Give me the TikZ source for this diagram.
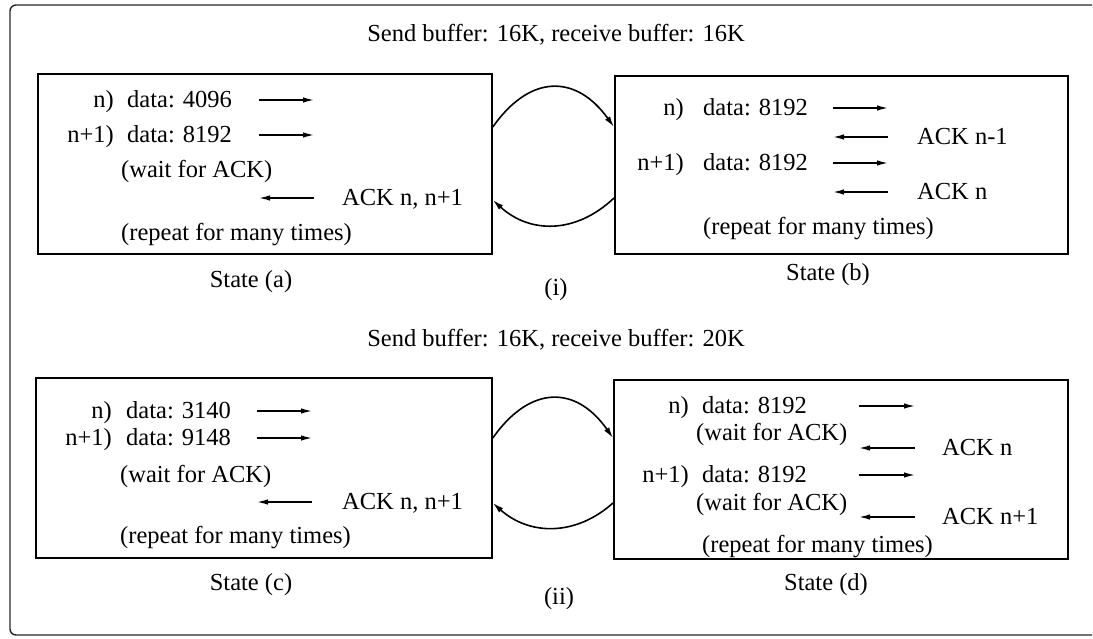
\documentclass[tikz,border=0pt]{standalone}
\usepackage{fontspec}
\setmainfont{Liberation Serif}
\usetikzlibrary{arrows.meta}
\begin{document}
\begin{tikzpicture}[x=1pt,y=-1pt,
  txt/.style={font=\fontsize{24.5}{29}\selectfont, inner sep=0pt, text height=17pt, text depth=6pt},
  lt/.style={txt, anchor=base west},
  rt/.style={txt, anchor=base east},
  ct/.style={txt, anchor=center},
  box/.style={draw, line width=1.8pt, rectangle, anchor=north west, inner sep=0pt},
  msg/.style={line width=1.4pt, -{Latex[length=11pt,width=5.5pt]}},
  loopline/.style={line width=1.6pt, -{Latex[length=11pt,width=6pt]}}
]
\useasboundingbox (0,0) rectangle (1093,638);
% outer frame
\draw[line width=1.4pt, rounded corners=6pt, black!85] (1092,5) -- (10,5) -- (10,635) -- (1092,635);

% ---------- part (i) ----------
\node[ct] (t1) at (556,36) {Send buffer: 16K, receive buffer: 16K};
\node[box, minimum width=454pt, minimum height=180pt] (A) at (37,73) {};
\node[box, minimum width=453pt, minimum height=178pt] (B) at (614,75) {};

% box (a)
\node[rt] (a1n) at (114,107) {n)};
\node[lt] (a1d) at (127,107) {data: 4096};
\node[rt] (a2n) at (114,142) {n+1)};
\node[lt] (a2d) at (127,142) {data: 8192};
\node[lt] (a3) at (121,177) {(wait for ACK)};
\node[lt] (a4) at (342,205) {ACK n, n+1};
\node[lt] (a5) at (121,240) {(repeat for many times)};
\path (259,100) coordinate (a1s) (314,100) coordinate (a1e)
      (259,135) coordinate (a2s) (314,135) coordinate (a2e)
      (314,198) coordinate (a3s) (259,198) coordinate (a3e);
\draw[msg] (a1s) -- (a1e);
\draw[msg] (a2s) -- (a2e);
\draw[msg] (a3s) -- (a3e);

% box (b)
\node[rt] (b1n) at (684,115) {n)};
\node[lt] (b1d) at (703,115) {data: 8192};
\node[lt] (b2) at (917,144) {ACK n-1};
\node[rt] (b3n) at (684,170) {n+1)};
\node[lt] (b3d) at (703,170) {data: 8192};
\node[lt] (b4) at (917,199) {ACK n};
\node[lt] (b5) at (703,234) {(repeat for many times)};
\path (833,108) coordinate (b1s) (888,108) coordinate (b1e)
      (888,137) coordinate (b2s) (833,137) coordinate (b2e)
      (833,163) coordinate (b3s) (888,163) coordinate (b3e)
      (888,192) coordinate (b4s) (833,192) coordinate (b4e);
\draw[msg] (b1s) -- (b1e);
\draw[msg] (b2s) -- (b2e);
\draw[msg] (b3s) -- (b3e);
\draw[msg] (b4s) -- (b4e);

\node[ct] (sa) at (251,282) {State (a)};
\node[ct] (sb) at (828,275) {State (b)};
\node[ct] (pi) at (556,290) {(i)};

\draw[loopline] ([yshift=-54pt]A.north east) .. controls (530,74) and (576,74) .. ([yshift=-52pt]B.north west);
\draw[loopline] ([yshift=-123pt]B.north west) .. controls (576,234) and (530,234) .. ([yshift=-127pt]A.north east);

% ---------- part (ii) ----------
\node[ct] (t2) at (556,341) {Send buffer: 16K, receive buffer: 20K};
\node[box, minimum width=456pt, minimum height=180pt] (C) at (35,377) {};
\node[box, minimum width=454pt, minimum height=179pt] (D) at (613,379) {};

% box (c)
\node[rt] (c1n) at (112,418) {n)};
\node[lt] (c1d) at (126,418) {data: 3140};
\node[rt] (c2n) at (112,445) {n+1)};
\node[lt] (c2d) at (126,445) {data: 9148};
\node[lt] (c3) at (120,482) {(wait for ACK)};
\node[lt] (c4) at (342,509) {ACK n, n+1};
\node[lt] (c5) at (120,543) {(repeat for many times)};
\path (257,411) coordinate (c1s) (312,411) coordinate (c1e)
      (257,438) coordinate (c2s) (312,438) coordinate (c2e)
      (312,502) coordinate (c3s) (257,502) coordinate (c3e);
\draw[msg] (c1s) -- (c1e);
\draw[msg] (c2s) -- (c2e);
\draw[msg] (c3s) -- (c3e);

% box (d)
\node[rt] (d1n) at (689,413) {n)};
\node[lt] (d1d) at (702,413) {data: 8192};
\node[lt] (d2) at (696,440) {(wait for ACK)};
\node[lt] (d3) at (942,455) {ACK n};
\node[rt] (d4n) at (689,482) {n+1)};
\node[lt] (d4d) at (702,482) {data: 8192};
\node[lt] (d5) at (696,510) {(wait for ACK)};
\node[lt] (d6) at (942,524) {ACK n+1};
\node[lt] (d7) at (702,552) {(repeat for many times)};
\path (859,406) coordinate (d1s) (915,406) coordinate (d1e)
      (915,448) coordinate (d2s) (859,448) coordinate (d2e)
      (859,475) coordinate (d3s) (915,475) coordinate (d3e)
      (915,517) coordinate (d4s) (859,517) coordinate (d4e);
\draw[msg] (d1s) -- (d1e);
\draw[msg] (d2s) -- (d2e);
\draw[msg] (d3s) -- (d3e);
\draw[msg] (d4s) -- (d4e);

\node[ct] (sc) at (251,585) {State (c)};
\node[ct] (sd) at (826,585) {State (d)};
\node[ct] (pii) at (559,599) {(ii)};

\draw[loopline] ([yshift=-61pt]C.north east) .. controls (530,385) and (576,385) .. ([yshift=-59pt]D.north west);
\draw[loopline] ([yshift=-124pt]D.north west) .. controls (576,536) and (530,536) .. ([yshift=-126pt]C.north east);
\end{tikzpicture}
\end{document}
